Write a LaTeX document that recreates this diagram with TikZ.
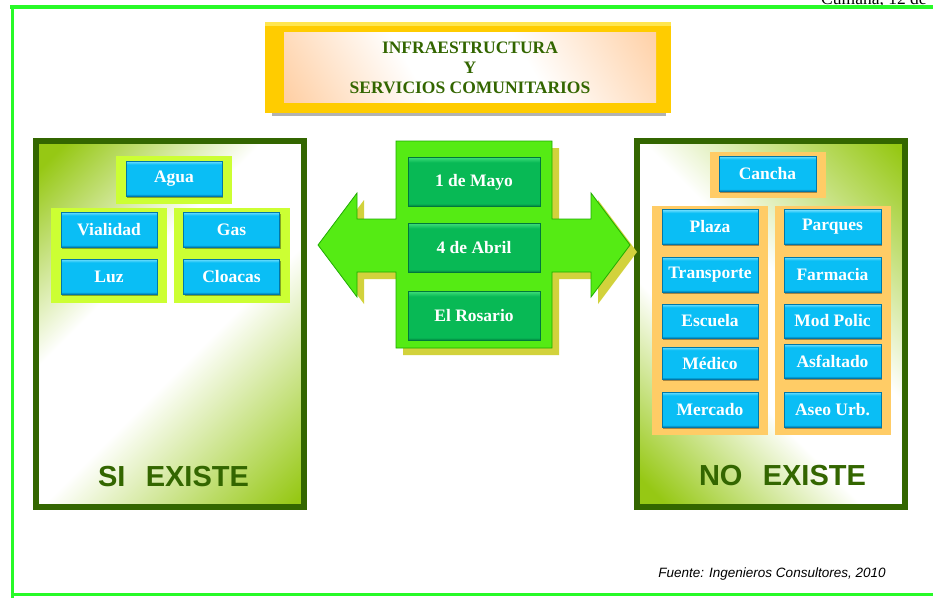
\documentclass[tikz,border=0pt]{standalone}
\usepackage{fontspec}
\setmainfont{Liberation Serif}
\setsansfont{Liberation Sans}
\usetikzlibrary{shadows}
\definecolor{frameG}{RGB}{40,250,40}
\definecolor{darkG}{RGB}{51,102,0}
\definecolor{panelG}{RGB}{150,200,20}
\definecolor{limeG}{RGB}{204,255,51}
\definecolor{orangeY}{RGB}{255,204,102}
\definecolor{cyanL}{RGB}{120,225,255}
\definecolor{cyanM}{RGB}{10,190,245}
\definecolor{cyanD}{RGB}{0,120,170}
\definecolor{grnL}{RGB}{60,220,120}
\definecolor{grnM}{RGB}{8,185,85}
\definecolor{grnD}{RGB}{0,120,60}
\definecolor{arrowG}{RGB}{85,235,20}
\definecolor{arrowD}{RGB}{30,170,0}
\definecolor{arrowS}{RGB}{210,210,60}
\definecolor{goldY}{RGB}{255,204,0}
\definecolor{goldL}{RGB}{255,230,80}
\definecolor{peachC}{RGB}{255,205,160}
\pgfdeclarehorizontalshading{panelshade}{100bp}{color(0bp)=(panelG); color(18bp)=(panelG); color(40bp)=(white); color(56bp)=(white); color(84bp)=(panelG); color(100bp)=(panelG)}
\pgfdeclarehorizontalshading{titleshade}{100bp}{color(0bp)=(peachC); color(15bp)=(peachC); color(40bp)=(white); color(60bp)=(white); color(86bp)=(peachC); color(100bp)=(peachC)}
\pgfdeclareverticalshading{btnshade}{100bp}{color(0bp)=(cyanD); color(25bp)=(cyanD); color(28bp)=(cyanM); color(70bp)=(cyanM); color(75bp)=(cyanL); color(100bp)=(cyanL)}
\pgfdeclareverticalshading{gbtnshade}{100bp}{color(0bp)=(grnD); color(25bp)=(grnD); color(28bp)=(grnM); color(70bp)=(grnM); color(75bp)=(grnL); color(100bp)=(grnL)}
\tikzset{
  btn/.style={shading=btnshade, draw=cyanD, line width=0.4pt, minimum width=96pt, minimum height=35pt, inner sep=0pt,
    text=white, font=\bfseries\fontsize{17.5}{19}\selectfont,
    drop shadow={shadow xshift=1pt, shadow yshift=-1.5pt, fill=black, opacity=0.35}},
  gbtn/.style={shading=gbtnshade, draw=grnD, line width=0.4pt, minimum width=132pt, minimum height=49pt, inner sep=0pt,
    text=white, font=\bfseries\fontsize{17.5}{19}\selectfont},
  limegrp/.style={fill=limeG},
  orangegrp/.style={fill=orangeY},
  panel/.style={draw=darkG, line width=5.5pt, shading=panelshade},
  bigtxt/.style={text=darkG, font=\sffamily\bfseries\fontsize{29}{31}\selectfont},
}
\begin{document}
\begin{tikzpicture}[x=1pt,y=-1pt]
\useasboundingbox (0,0) rectangle (933,597);
\fill[white] (0,0) rectangle (933,597);
% top cut-off text
\node[anchor=base west, inner sep=0pt, font=\fontsize{17.5}{19}\selectfont] (cumana) at (821,5) {Cumaná, 12 de};
% outer frame
\draw[frameG, line width=3.5pt] (10,7) -- (945,7);
\draw[frameG, line width=3pt] (12,7) -- (12,605);
\draw[frameG, line width=2.5pt] (12,594.5) -- (945,594.5);
% title
\fill[black!30] (272,110) rectangle (666,116);
\fill[goldY] (265,22) rectangle (671,113);
\fill[goldL] (265,22) rectangle (671,26);
\shade[shading=titleshade, shading angle=30] (284,32) rectangle (656,102);
\node[text=darkG, align=center, font=\bfseries\fontsize{17.5}{20}\selectfont] (title) at (470,68) {INFRAESTRUCTURA\\Y\\SERVICIOS COMUNITARIOS};
% left panel
\path[panel, shading angle=-45] (35.8,140.8) rectangle (304.2,507.2);
\fill[limegrp] (116,156) rectangle (232,204);
\fill[limegrp] (51,208) rectangle (167,303);
\fill[limegrp] (174,208) rectangle (290,303);
\node[btn] (agua) at (174,178.5) {Agua};
\node[btn] (vialidad) at (109,229.5) {Vialidad};
\node[btn] (luz) at (109,276.5) {Luz};
\node[btn] (gas) at (231.5,229.5) {Gas};
\node[btn] (cloacas) at (231.5,276.5) {Cloacas};
\node[bigtxt] (si) at (173.5,477) {SI\hspace{0.7em}EXISTE};
% right panel
\path[panel, shading angle=45] (636.8,140.8) rectangle (905.2,507.2);
\fill[orangegrp] (710,152) rectangle (826,198);
\fill[orangegrp] (652,206) rectangle (768,435);
\fill[orangegrp] (775,206) rectangle (891,435);
\node[btn, minimum width=97pt] (cancha) at (767.5,173.5) {Cancha};
\node[btn] (plaza) at (710,227) {Plaza};
\node[btn] (transporte) at (710,274.5) {Transporte};
\node[btn, minimum height=34pt] (escuela) at (710,321) {Escuela};
\node[btn, minimum height=32pt] (medico) at (710,363) {Médico};
\node[btn] (mercado) at (710,409.5) {Mercado};
\node[btn, minimum width=97pt] (parques) at (832.5,227) {Parques};
\node[btn, minimum width=97pt] (farmacia) at (832.5,274.5) {Farmacia};
\node[btn, minimum width=97pt, minimum height=34pt] (modpolic) at (832.5,321) {Mod Polic};
\node[btn, minimum width=97pt, minimum height=34pt] (asfaltado) at (832.5,361) {Asfaltado};
\node[btn, minimum width=97pt] (aseo) at (832.5,409.5) {Aseo Urb.};
\node[bigtxt] (no) at (782.5,476) {NO\hspace{0.7em}EXISTE};
% central double arrow
\begin{scope}[shift={(7,7)}]
\fill[arrowS] (318,245) -- (357,193) -- (357,219) -- (396,219) -- (396,141) -- (552,141) -- (552,219) -- (591,219) -- (591,193) -- (630,245) -- (591,297) -- (591,272) -- (552,272) -- (552,348) -- (396,348) -- (396,272) -- (357,272) -- (357,297) -- cycle;
\end{scope}
\draw[arrowD, fill=arrowG, line width=0.8pt] (318,245) -- (357,193) -- (357,219) -- (396,219) -- (396,141) -- (552,141) -- (552,219) -- (591,219) -- (591,193) -- (630,245) -- (591,297) -- (591,272) -- (552,272) -- (552,348) -- (396,348) -- (396,272) -- (357,272) -- (357,297) -- cycle;
\node[gbtn] (mayo) at (474,182) {1 de Mayo};
\node[gbtn] (abril) at (474,248) {4 de Abril};
\node[gbtn] (rosario) at (474,316) {El Rosario};
% source
\node[font=\sffamily\itshape\fontsize{13.5}{15}\selectfont] (fuente) at (772,574) {Fuente: Ingenieros Consultores, 2010};
\end{tikzpicture}
\end{document}
